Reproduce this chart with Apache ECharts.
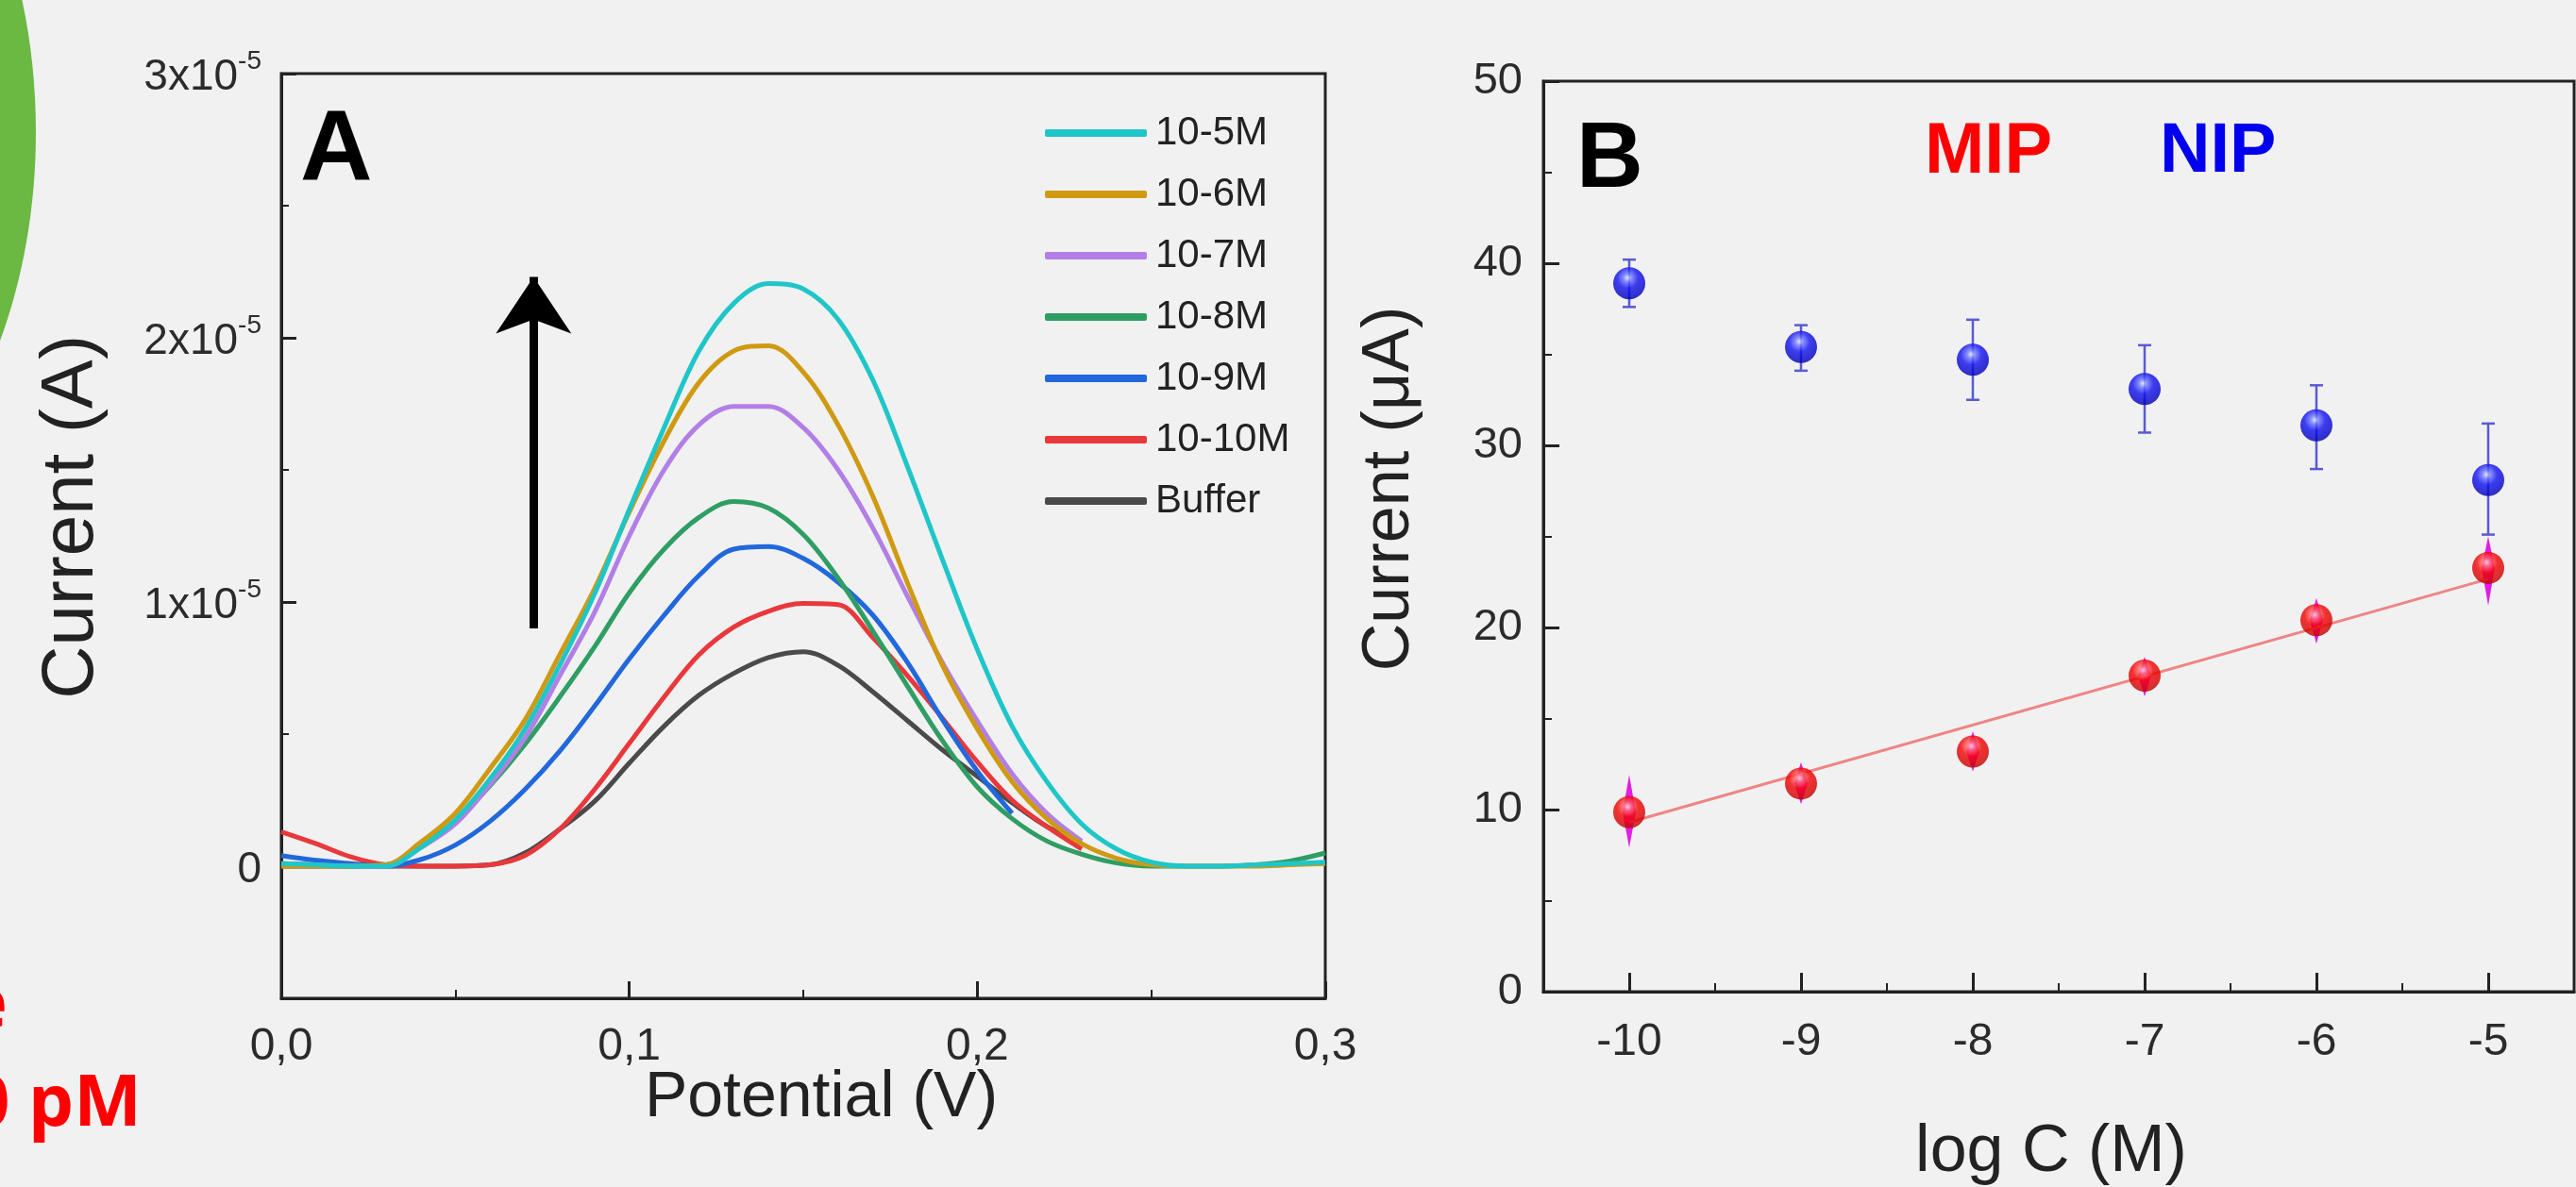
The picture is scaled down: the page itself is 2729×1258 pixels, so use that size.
<!DOCTYPE html>
<html><head><meta charset="utf-8">
<script src="https://cdn.jsdelivr.net/npm/echarts@6/dist/echarts.min.js"></script>
<style>html,body{margin:0;padding:0;background:#f1f1f1;overflow:hidden}#c{width:2729px;height:1258px}</style>
</head><body><div id="c"></div>
<script>
// ---------- Panel A : DPV curves (current in units of 1e-5 A) ----------
const potential = [0.00,0.01,0.02,0.03,0.04,0.05,0.06,0.07,0.08,0.09,0.10,0.11,0.12,0.13,0.14,0.15,0.16,0.17,0.18,0.19,0.20,0.21,0.22,0.23,0.24,0.25,0.26,0.27,0.28,0.29,0.30];
const cur_1e_5M  = [0.01,0.005,0,0,0.07,0.175,0.33,0.518,0.76,1.03,1.35,1.66,1.95,2.13,2.205,2.185,2.07,1.84,1.51,1.16,0.82,0.53,0.32,0.16,0.065,0.015,0,0,0.005,0.01,0.015];
const cur_1e_6M  = [0,0,0,0.005,0.09,0.20,0.37,0.553,0.80,1.05,1.34,1.61,1.83,1.95,1.97,1.87,1.67,1.40,1.07,0.76,0.52,0.32,0.18,0.085,0.03,0.005,0,0,0,0.005,0.01];
const cur_1e_7M  = [0.01,0.005,0,0,0.07,0.16,0.31,0.485,0.72,0.96,1.25,1.50,1.67,1.74,1.74,1.66,1.50,1.28,1.02,0.77,0.55,0.35,0.20,0.095,null,null,null,null,null,null,null];
const cur_1e_8M  = [0.01,0.005,0,0.005,0.08,0.17,0.305,0.461,0.64,0.83,1.035,1.20,1.32,1.38,1.355,1.255,1.09,0.89,0.68,0.475,0.30,0.18,0.095,0.045,0.012,0,0,0,0.005,0.02,0.05];
const cur_1e_9M  = [0.04,0.022,0.01,0,0.025,0.08,0.17,0.29,0.435,0.605,0.785,0.95,1.10,1.20,1.21,1.165,1.075,0.95,0.77,0.555,0.36,0.20,null,null,null,null,null,null,null,null,null];
const cur_1e_10M = [0.13,0.085,0.035,0.005,0,0,0.005,0.04,0.14,0.29,0.465,0.64,0.80,0.905,0.965,0.995,0.99,0.865,0.72,0.56,0.395,0.25,0.15,0.065,null,null,null,null,null,null,null];
const cur_buffer = [0,0,0,0,0,0,0.005,0.05,0.14,0.245,0.39,0.53,0.647,0.73,0.79,0.812,0.76,0.66,0.55,0.44,0.34,0.24,0.15,0.086,null,null,null,null,null,null,null];
const namesA = ['10-5M','10-6M','10-7M','10-8M','10-9M','10-10M','Buffer'];
const colorsA = ['#1fc6c8','#cf9a12','#b27fe6','#2f9e63','#2168dc','#e9383b','#4a4a4a'];
const curvesA = [cur_1e_5M,cur_1e_6M,cur_1e_7M,cur_1e_8M,cur_1e_9M,cur_1e_10M,cur_buffer];
const arrowA = [[0.0725,0.90],[0.0725,2.23]];
const yTicksA = [0,1,2,3];

// ---------- Panel B : calibration ----------
const logC = [-10,-9,-8,-7,-6,-5];
const nipMean = [38.9,35.4,34.7,33.1,31.1,28.1];
const nipLow  = [37.6,34.1,32.5,30.7,28.7,25.1];
const nipHigh = [40.2,36.6,36.9,35.5,33.3,31.2];
const mipMean = [9.86,11.43,13.19,17.36,20.4,23.27];
const mipLow  = [7.9,10.3,12.1,16.2,19.1,21.2];
const mipHigh = [11.9,12.6,14.3,18.4,21.6,25.0];
const mipFitX = [-10,-5];
const mipFitY = [9.3,22.66];
const xTicksB = [-10,-9,-8,-7,-6,-5];
const xMinorB = [-9.5,-8.5,-7.5,-6.5,-5.5];

const FONT = '"Liberation Sans",Arial,sans-serif';
const INK = '#222';
const LBL = '#2b2b2b';

const chart = echarts.init(document.getElementById('c'), null, {renderer:'canvas'});

function sphere(c0,c1,c2,c3,c4){
  return {type:'radial',x:0.45,y:0.33,r:0.72,colorStops:[
    {offset:0,color:c0},{offset:0.18,color:c1},{offset:0.45,color:c2},{offset:0.85,color:c3},{offset:1,color:c4}]};
}

const seriesA = curvesA.map((vals,i)=>({
  name:namesA[i], type:'line', xAxisIndex:0, yAxisIndex:0,
  data: potential.map((p,j)=>[p, vals[j]]),
  showSymbol:false, symbol:'none', smooth:0.35, connectNulls:false,
  color:colorsA[i], lineStyle:{width:5, color:colorsA[i]},
  z: 10-i, animation:false
}));

const option = {
  backgroundColor:'#f1f1f1',
  animation:false,
  grid:[
    {left:298, top:78, width:1106, height:980, show:true, borderColor:INK, borderWidth:3, backgroundColor:'transparent'},
    {left:1635, top:86, width:1092, height:965, show:true, borderColor:INK, borderWidth:3, backgroundColor:'transparent'}
  ],
  legend:{
    orient:'vertical', left:1102, top:110, itemWidth:108, itemHeight:8, itemGap:13,
    icon:'roundRect', data:namesA, selectedMode:false,
    textStyle:{fontFamily:FONT, fontSize:42, color:INK, lineHeight:52, padding:[0,0,0,4]}
  },
  xAxis:[
    {gridIndex:0, type:'value', min:0, max:0.3, interval:0.1, position:'bottom',
     axisLine:{show:true, onZero:false, lineStyle:{color:INK, width:3}},
     axisTick:{show:true, inside:true, length:18, lineStyle:{color:INK, width:3}},
     minorTick:{show:true, splitNumber:2, length:9, lineStyle:{color:INK, width:2}},
     splitLine:{show:false},
     axisLabel:{margin:28, fontFamily:FONT, fontSize:48, color:LBL,
       formatter:v=>v.toFixed(1).replace('.',',')}},
    {gridIndex:1, type:'value', min:-10.5, max:-4.5, position:'bottom',
     axisLine:{show:true, onZero:false, lineStyle:{color:INK, width:3}},
     axisTick:{show:true, inside:true, length:20, customValues:xTicksB, lineStyle:{color:INK, width:3}},
     splitLine:{show:false},
     axisLabel:{margin:30, fontFamily:FONT, fontSize:48, color:LBL, customValues:xTicksB,
       formatter:v=>String(v)}},
    {gridIndex:1, type:'value', min:-10.5, max:-4.5, position:'bottom',
     axisLine:{show:false, onZero:false},
     axisTick:{show:true, inside:true, length:9, customValues:xMinorB, lineStyle:{color:INK, width:2}},
     splitLine:{show:false}, axisLabel:{show:false}}
  ],
  yAxis:[
    {gridIndex:0, type:'value', min:-0.5, max:3, position:'left',
     axisLine:{show:true, onZero:false, lineStyle:{color:INK, width:3}},
     axisTick:{show:true, inside:true, length:16, customValues:yTicksA, lineStyle:{color:INK, width:3}},
     splitLine:{show:false},
     axisLabel:{margin:21, customValues:yTicksA,
       formatter:v=> v===0 ? '{m|0}' : '{m|'+v+'x10}{s|-5}',
       rich:{
         m:{fontFamily:FONT, fontSize:46, color:LBL, lineHeight:54, verticalAlign:'bottom'},
         s:{fontFamily:FONT, fontSize:28, color:LBL, lineHeight:54, verticalAlign:'top'}
       }}},
    {gridIndex:0, type:'value', min:-0.5, max:3, interval:0.5, position:'left',
     axisLine:{show:false, onZero:false},
     axisTick:{show:true, inside:true, length:8, lineStyle:{color:INK, width:2}},
     splitLine:{show:false}, axisLabel:{show:false}},
    {gridIndex:1, type:'value', min:0, max:50, interval:10, position:'left',
     axisLine:{show:true, onZero:false, lineStyle:{color:INK, width:3}},
     axisTick:{show:true, inside:true, length:17, lineStyle:{color:INK, width:3}},
     minorTick:{show:true, splitNumber:2, length:9, lineStyle:{color:INK, width:2}},
     splitLine:{show:false},
     axisLabel:{margin:22, fontFamily:FONT, fontSize:47, color:LBL}}
  ],
  series:[
    ...seriesA,
    {type:'lines', coordinateSystem:'cartesian2d', xAxisIndex:0, yAxisIndex:0,
     data:[{coords:arrowA}], symbol:['none','arrow'], symbolSize:[48,60],
     lineStyle:{color:'#000', width:9, opacity:1}, z:20, silent:true},
    // Panel B
    {name:'NIP err', type:'custom', xAxisIndex:1, yAxisIndex:2, z:3,
     data: logC.map((x,i)=>[x, nipLow[i], nipHigh[i]]),
     encode:{x:0, y:[1,2]},
     renderItem:(params, api)=>{
       const x=api.value(0), lo=api.coord([x,api.value(1)]), hi=api.coord([x,api.value(2)]);
       const st={stroke:'#5a5ad4', lineWidth:2.5};
       return {type:'group', children:[
         {type:'line', shape:{x1:lo[0],y1:lo[1],x2:hi[0],y2:hi[1]}, style:st},
         {type:'line', shape:{x1:hi[0]-7,y1:hi[1],x2:hi[0]+7,y2:hi[1]}, style:st},
         {type:'line', shape:{x1:lo[0]-7,y1:lo[1],x2:lo[0]+7,y2:lo[1]}, style:st}
       ]};
     }},
    {name:'MIP err', type:'custom', xAxisIndex:1, yAxisIndex:2, z:3,
     data: logC.map((x,i)=>[x, mipLow[i], mipHigh[i], mipMean[i]]),
     encode:{x:0, y:[1,2]},
     renderItem:(params, api)=>{
       const x=api.value(0), lo=api.coord([x,api.value(1)]), hi=api.coord([x,api.value(2)]), m=api.coord([x,api.value(3)]);
       return {type:'polygon', shape:{points:[[hi[0],hi[1]],[m[0]+7,m[1]],[lo[0],lo[1]],[m[0]-7,m[1]]]},
               style:{fill:'#e21ee2'}};
     }},
    {name:'MIP fit', type:'line', xAxisIndex:1, yAxisIndex:2, z:4,
     data: mipFitX.map((x,i)=>[x, mipFitY[i]]), showSymbol:false, symbol:'none',
     lineStyle:{color:'#ee8585', width:3}},
    {name:'NIP', type:'scatter', xAxisIndex:1, yAxisIndex:2, z:6,
     data: logC.map((x,i)=>[x, nipMean[i]]), symbol:'circle', symbolSize:34,
     itemStyle:{color:sphere('#e4e8ff','#6a74ff','#1010f0','#0000c0','#00007e')}},
    {name:'MIP', type:'scatter', xAxisIndex:1, yAxisIndex:2, z:6,
     data: logC.map((x,i)=>[x, mipMean[i]]), symbol:'circle', symbolSize:34,
     itemStyle:{color:sphere('#ffeaea','#ff6a6a','#f40000','#cc0000','#900000')}}
  ],
  graphic:[
    {type:'ellipse', shape:{cx:-300, cy:140, rx:338, ry:480}, style:{fill:'#6bb843'}, z:0},
    {type:'text', x:8, y:1067, style:{text:'e', font:'bold 76px "Noto Sans","Open Sans",sans-serif', fill:'#ff0000', align:'right', verticalAlign:'middle', textAlign:'right', textVerticalAlign:'middle'}},
    {type:'text', x:150, y:1171, style:{text:'10 pM', font:'bold 76px "Noto Sans","Open Sans",sans-serif', fill:'#ff0000', align:'right', verticalAlign:'middle', textAlign:'right', textVerticalAlign:'middle'}},
    {type:'text', x:318, y:162, style:{text:'A', font:'bold 106px '+FONT, fill:'#000', align:'left', verticalAlign:'middle', textAlign:'left', textVerticalAlign:'middle'}},
    {type:'text', x:1670, y:171, style:{text:'B', font:'bold 98px '+FONT, fill:'#000', align:'left', verticalAlign:'middle', textAlign:'left', textVerticalAlign:'middle'}},
    {type:'text', x:2039, y:162, style:{text:'MIP', font:'bold 76px '+FONT, fill:'#ff0000', align:'left', verticalAlign:'middle', textAlign:'left', textVerticalAlign:'middle'}},
    {type:'text', x:2288, y:162, style:{text:'NIP', font:'bold 74px '+FONT, fill:'#0000ee', align:'left', verticalAlign:'middle', textAlign:'left', textVerticalAlign:'middle'}},
    {type:'text', x:76, y:548, rotation:Math.PI/2, style:{text:'Current (A)', font:'78px '+FONT, fill:INK, align:'center', verticalAlign:'middle', textAlign:'center', textVerticalAlign:'middle'}},
    {type:'text', x:870, y:1164, style:{text:'Potential (V)', font:'68px '+FONT, fill:INK, align:'center', verticalAlign:'middle', textAlign:'center', textVerticalAlign:'middle'}},
    {type:'text', x:1473, y:518, rotation:Math.PI/2, style:{text:'Current (\u03bcA)', font:'70px '+FONT, fill:INK, align:'center', verticalAlign:'middle', textAlign:'center', textVerticalAlign:'middle'}},
    {type:'text', x:2173, y:1222, style:{text:'log C (M)', font:'70px '+FONT, fill:INK, align:'center', verticalAlign:'middle', textAlign:'center', textVerticalAlign:'middle'}}
  ]
};
chart.setOption(option);
</script>
</body></html>
